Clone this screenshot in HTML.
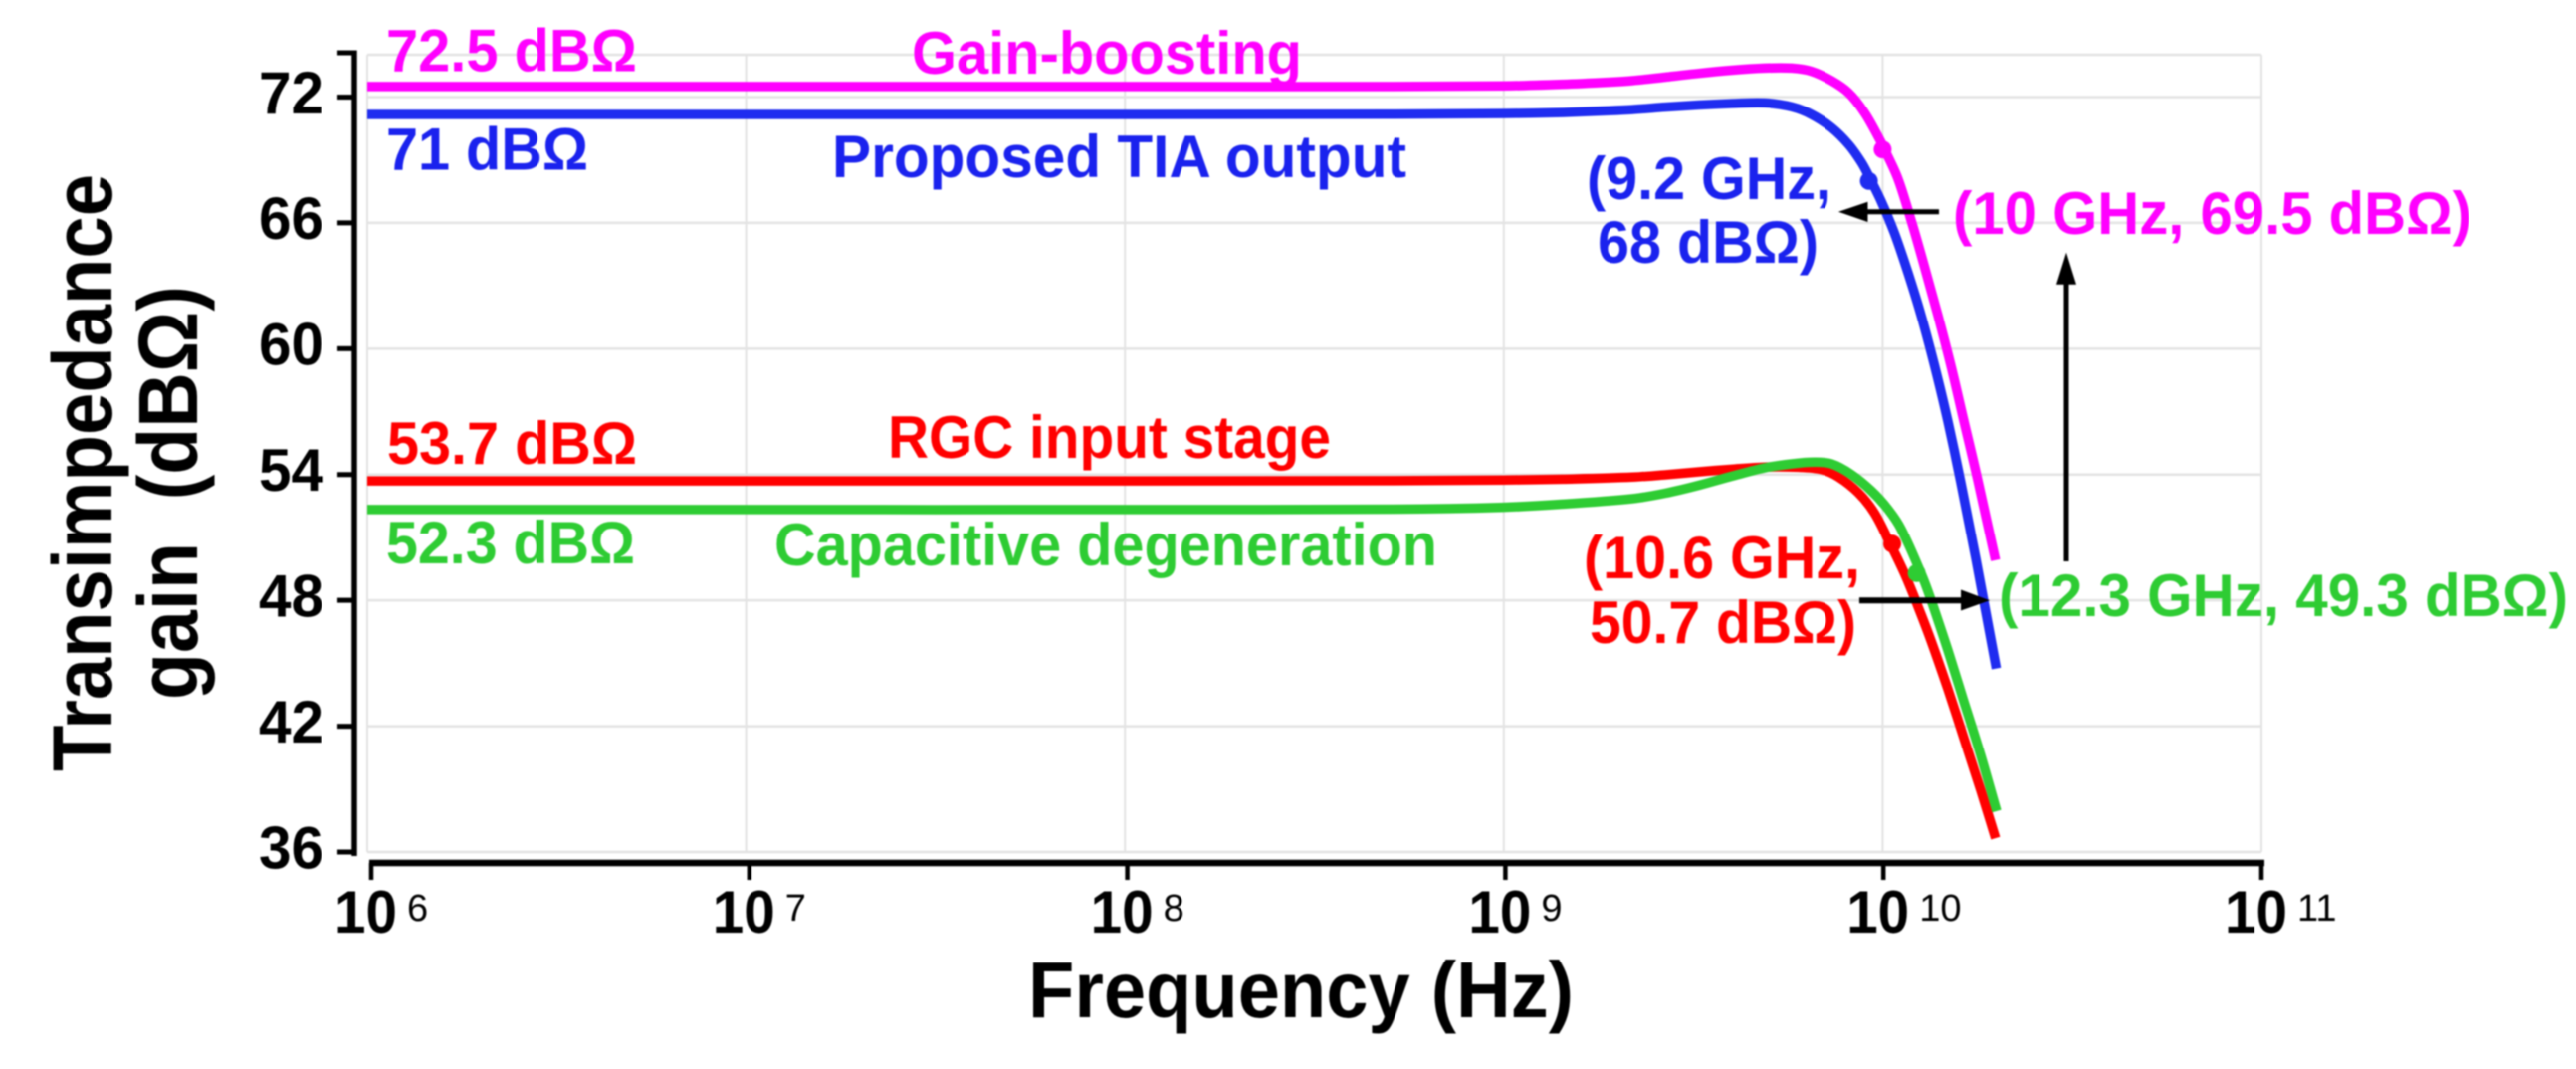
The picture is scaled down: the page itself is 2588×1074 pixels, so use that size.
<!DOCTYPE html>
<html lang="en">
<head>
<meta charset="utf-8">
<title>Transimpedance gain vs frequency</title>
<style>
  html, body { margin: 0; padding: 0; background: #ffffff; }
  body { width: 2588px; height: 1074px; overflow: hidden; }
  svg { display: block; font-family: "Liberation Sans", "DejaVu Sans", sans-serif; font-weight: bold; filter: blur(0.7px); }
  text { white-space: pre; }
</style>
</head>
<body>
<svg id="chart" xmlns="http://www.w3.org/2000/svg" width="2588" height="1074" viewBox="0 0 2588 1074">
  <rect x="0" y="0" width="2588" height="1074" fill="#ffffff"/>
  <g id="grid"></g>
  <g id="axes"></g>
  <g id="series"></g>
  <g id="markers"></g>

  <g>
    <path d="M1948 210.2V215.2H1876.5V223L1847 212.7L1876.5 202.8V210.2Z" fill="#000"/>
    <path d="M1868 600.3V606.3H1970V613.5L1999 603.3L1970 592.5V600.3Z" fill="#000"/>
    <path d="M2073.5 564H2078.5V285.7H2086L2076 253.6L2066 285.7H2073.5Z" fill="#000"/>
  </g>

  <g font-size="60">
    <text x="388" y="71.5" fill="#ff00ff" textLength="252" lengthAdjust="spacingAndGlyphs">72.5 dBΩ</text>
    <text x="916" y="74" fill="#ff00ff" textLength="392" lengthAdjust="spacingAndGlyphs">Gain-boosting</text>
    <text x="388" y="170.7" fill="#1a22ee" textLength="203" lengthAdjust="spacingAndGlyphs">71 dBΩ</text>
    <text x="836" y="178" fill="#1a22ee" textLength="577" lengthAdjust="spacingAndGlyphs">Proposed TIA output</text>
    <text x="389" y="466" fill="#ff0000" textLength="251" lengthAdjust="spacingAndGlyphs">53.7 dBΩ</text>
    <text x="892" y="460" fill="#ff0000" textLength="445" lengthAdjust="spacingAndGlyphs">RGC input stage</text>
    <text x="388" y="566" fill="#2ecc33" textLength="250" lengthAdjust="spacingAndGlyphs">52.3 dBΩ</text>
    <text x="778" y="568" fill="#2ecc33" textLength="666" lengthAdjust="spacingAndGlyphs">Capacitive degeneration</text>

    <text x="1594" y="200" fill="#1a22ee" textLength="246" lengthAdjust="spacingAndGlyphs">(9.2 GHz,</text>
    <text x="1605" y="264" fill="#1a22ee" textLength="222" lengthAdjust="spacingAndGlyphs">68 dBΩ)</text>
    <text x="1962" y="235" fill="#ff00ff" textLength="521" lengthAdjust="spacingAndGlyphs">(10 GHz, 69.5 dBΩ)</text>
    <text x="1591" y="581" fill="#ff0000" textLength="278" lengthAdjust="spacingAndGlyphs">(10.6 GHz,</text>
    <text x="1597" y="646" fill="#ff0000" textLength="268" lengthAdjust="spacingAndGlyphs">50.7 dBΩ)</text>
    <text x="2008" y="619" fill="#2ecc33" textLength="572" lengthAdjust="spacingAndGlyphs">(12.3 GHz, 49.3 dBΩ)</text>
  </g>

  <g id="ticklabels" font-size="60" fill="#000"></g>

  <text x="1033" y="1022" font-size="80" fill="#000" textLength="548" lengthAdjust="spacingAndGlyphs">Frequency (Hz)</text>
  <text transform="translate(112,775) rotate(-90)" x="0" y="0" font-size="84" fill="#000" textLength="600" lengthAdjust="spacingAndGlyphs">Transimpedance</text>
  <text transform="translate(198,703) rotate(-90)" x="0" y="0" font-size="84" fill="#000" textLength="416" lengthAdjust="spacingAndGlyphs">gain  (dBΩ)</text>
</svg>

<script>
// Axis tick values
const yTickValues = [36, 42, 48, 54, 60, 66, 72];
const xTickExponents = [6, 7, 8, 9, 10, 11];

// Series values: log10(frequency in Hz) and gain in dBOhm
const gainBoostFreq = [6, 7, 8, 8.709, 8.998, 9.156, 9.279, 9.339, 9.426, 9.515, 9.602, 9.689, 9.76, 9.812, 9.865, 9.91, 9.952, 9.988, 10.009, 10.041, 10.075, 10.109, 10.146, 10.18, 10.214, 10.251, 10.298];
const gainBoostDb = [72.5, 72.5, 72.5, 72.5, 72.53, 72.61, 72.71, 72.78, 72.95, 73.13, 73.28, 73.38, 73.38, 73.23, 72.78, 72.21, 71.26, 70.12, 69.36, 68.08, 66.14, 64.0, 61.58, 59.21, 56.6, 53.75, 49.91];

const proposedFreq = [6, 7, 8, 8.709, 8.998, 9.156, 9.279, 9.339, 9.426, 9.515, 9.602, 9.689, 9.76, 9.812, 9.865, 9.91, 9.944, 9.965, 9.996, 10.031, 10.067, 10.101, 10.136, 10.172, 10.206, 10.246, 10.3];
const proposedDb = [71.17, 71.17, 71.17, 71.18, 71.21, 71.26, 71.35, 71.4, 71.52, 71.62, 71.69, 71.72, 71.53, 71.17, 70.54, 69.74, 68.88, 68.18, 67.04, 65.52, 63.62, 61.63, 59.26, 56.55, 53.66, 50.0, 44.75];

const rgcFreq = [6, 7, 8, 8.709, 8.998, 9.156, 9.339, 9.426, 9.515, 9.602, 9.689, 9.778, 9.839, 9.883, 9.936, 9.978, 10.017, 10.057, 10.093, 10.128, 10.172, 10.214, 10.259, 10.298];
const rgcDb = [53.7, 53.7, 53.7, 53.71, 53.74, 53.78, 53.88, 53.99, 54.13, 54.26, 54.36, 54.35, 54.24, 53.89, 53.13, 52.18, 50.81, 49.31, 47.72, 46.06, 43.78, 41.46, 38.94, 36.66];

const capacitiveFreq = [6, 7, 8, 8.709, 8.998, 9.156, 9.339, 9.426, 9.515, 9.602, 9.689, 9.76, 9.82, 9.865, 9.917, 9.97, 10.015, 10.049, 10.101, 10.128, 10.172, 10.214, 10.259, 10.301];
const capacitiveDb = [52.33, 52.33, 52.33, 52.35, 52.44, 52.59, 52.85, 53.11, 53.49, 53.92, 54.32, 54.51, 54.59, 54.51, 54.01, 53.23, 52.33, 51.4, 49.31, 48.01, 45.63, 43.21, 40.6, 37.95];

// Bandwidth markers: GHz and dBOhm as printed
const markerGHz = [10, 9.2, 10.6, 12.3];
const markerDb = [69.5, 68, 50.7, 49.3];
const markerColors = ['#ff00ff', '#1f2cf0', '#ff0000', '#2ecc33'];

const NS = 'http://www.w3.org/2000/svg';
const xScale = (exp) => 369 + (exp - 6) * 380.6;
const yScale = (db) => 856 - (db - 36) * 21.07;
const xTickPos = (exp) => 373 + (exp - 6) * 379.8;

function make(tag, attrs, parent) {
  const el = document.createElementNS(NS, tag);
  for (const k in attrs) el.setAttribute(k, attrs[k]);
  parent.appendChild(el);
  return el;
}

function smoothPath(freqs, dbs) {
  const p = freqs.map((f, i) => [xScale(f), yScale(dbs[i])]);
  let d = 'M' + p[0][0].toFixed(1) + ' ' + p[0][1].toFixed(1);
  const tangent = (i) => {
    const a = p[Math.max(i - 1, 0)], b = p[Math.min(i + 1, p.length - 1)];
    const dx = b[0] - a[0], dy = b[1] - a[1], n = Math.hypot(dx, dy) || 1;
    return [dx / n, dy / n];
  };
  for (let i = 0; i < p.length - 1; i++) {
    const len = Math.hypot(p[i + 1][0] - p[i][0], p[i + 1][1] - p[i][1]) / 3;
    const t0 = tangent(i), t1 = tangent(i + 1);
    d += 'C' + (p[i][0] + t0[0] * len).toFixed(1) + ' ' + (p[i][1] + t0[1] * len).toFixed(1) +
      ' ' + (p[i + 1][0] - t1[0] * len).toFixed(1) + ' ' + (p[i + 1][1] - t1[1] * len).toFixed(1) +
      ' ' + p[i + 1][0].toFixed(1) + ' ' + p[i + 1][1].toFixed(1);
  }
  return d;
}

const gridG = document.getElementById('grid');
const axesG = document.getElementById('axes');
const seriesG = document.getElementById('series');
const markersG = document.getElementById('markers');
const labelsG = document.getElementById('ticklabels');

// Horizontal grid lines and y ticks
yTickValues.forEach((v) => {
  const g = make('line', { x1: 369, x2: 2272, y1: yScale(v), y2: yScale(v), stroke: '#e3e3e3', 'stroke-width': 2.5 }, gridG);
  
  
  const t = make('line', { x1: 339, x2: 356, y1: yScale(v), y2: yScale(v), stroke: '#000', 'stroke-width': 5 }, axesG);
  
  
  const l = make('text', { x: 260, y: yScale(v) + 16.3, textLength: 65, lengthAdjust: 'spacingAndGlyphs' }, labelsG);
  l.textContent = String(v);
  
  
});

// Top border of the plot area
const topBorder = make('line', { x1: 369, x2: 2272, y1: 55, y2: 55, stroke: '#e3e3e3', 'stroke-width': 2.5 }, gridG);



// Vertical grid lines and x ticks
xTickExponents.forEach((e) => {
  const g = make('line', { x1: xScale(e), x2: xScale(e), y1: 55, y2: 856, stroke: '#e3e3e3', 'stroke-width': 2 }, gridG);
  
  
  const t = make('line', { x1: xTickPos(e), x2: xTickPos(e), y1: 867, y2: 884, stroke: '#000', 'stroke-width': 4.5 }, axesG);
  
  
  const l = make('text', { x: xTickPos(e) - 37, y: 937, textLength: 63, lengthAdjust: 'spacingAndGlyphs' }, labelsG);
  l.textContent = '10';
  
  
  const s = make('text', { x: xTickPos(e) + 36, y: 925, 'font-size': 38, 'font-weight': 'normal' }, labelsG);
  s.textContent = String(e);
  
  
});

// Axis lines
const yAxis = make('line', { x1: 356, x2: 356, y1: 50.5, y2: 860, stroke: '#000', 'stroke-width': 5.5 }, axesG);


const yCap = make('line', { x1: 339, x2: 356, y1: 53, y2: 53, stroke: '#000', 'stroke-width': 5 }, axesG);


const xAxis = make('line', { x1: 371, x2: 2275, y1: 867, y2: 867, stroke: '#000', 'stroke-width': 6.5 }, axesG);



// Series curves
const gainBoostLine = make('path', { d: smoothPath(gainBoostFreq, gainBoostDb), fill: 'none', stroke: '#ff00ff', 'stroke-width': 9.5 }, seriesG);


const proposedLine = make('path', { d: smoothPath(proposedFreq, proposedDb), fill: 'none', stroke: '#1f2cf0', 'stroke-width': 9.5 }, seriesG);


const rgcLine = make('path', { d: smoothPath(rgcFreq, rgcDb), fill: 'none', stroke: '#ff0000', 'stroke-width': 9.5 }, seriesG);


const capacitiveLine = make('path', { d: smoothPath(capacitiveFreq, capacitiveDb), fill: 'none', stroke: '#2ecc33', 'stroke-width': 9.5 }, seriesG);



// Bandwidth markers
markerGHz.forEach((ghz, i) => {
  const m = make('circle', { cx: xScale(Math.log10(ghz * 1e9)), cy: yScale(markerDb[i]), r: 9, fill: markerColors[i] }, markersG);
  
  
});
</script>
</body>
</html>
